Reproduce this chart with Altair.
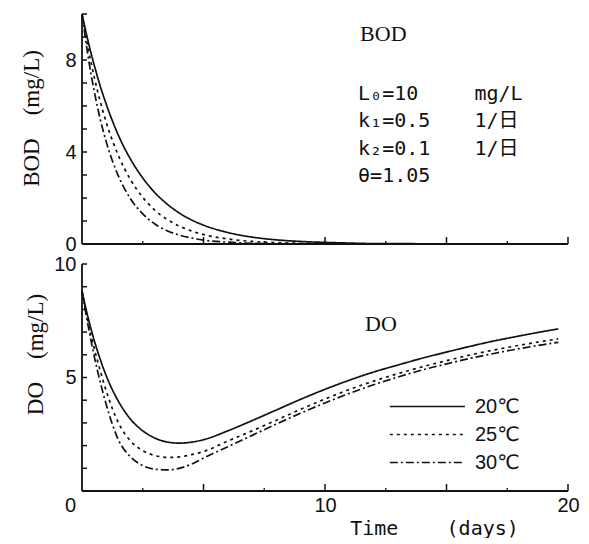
import altair as alt
import pandas as pd

# ---------------- data ----------------
days = [0, 0.25, 0.5, 0.75, 1, 1.5, 2, 2.5, 3, 3.5, 4, 4.5, 5, 6, 7, 8, 9, 10,
        11, 12, 13, 14, 15, 16, 17, 18, 19, 19.6]
temps = ["20℃", "25℃", "30℃"]

bod_20 = [10, 8.82, 7.79, 6.87, 6.07, 4.72, 3.68, 2.87, 2.23, 1.74, 1.35, 1.05, 0.82,
          0.50, 0.30, 0.18, 0.11, 0.07, 0.04, 0.02, 0.02, 0.01, 0.01, 0, 0, 0, 0, 0]
bod_25 = [10, 8.53, 7.27, 6.20, 5.28, 3.84, 2.79, 2.03, 1.47, 1.07, 0.78, 0.57, 0.41,
          0.22, 0.11, 0.06, 0.03, 0.02, 0.01, 0, 0, 0, 0, 0, 0, 0, 0, 0]
bod_30 = [10, 8.16, 6.66, 5.43, 4.43, 2.95, 1.96, 1.31, 0.87, 0.58, 0.39, 0.26, 0.17,
          0.08, 0.03, 0.01, 0, 0, 0, 0, 0, 0, 0, 0, 0, 0, 0, 0]

do_20 = [8.8, 7.64, 6.65, 5.80, 5.07, 3.95, 3.16, 2.65, 2.33, 2.16, 2.11, 2.15, 2.26,
         2.65, 3.10, 3.57, 4.04, 4.48, 4.88, 5.24, 5.55, 5.85, 6.12, 6.38, 6.62, 6.83, 7.03, 7.14]
do_25 = [8.8, 7.45, 6.30, 5.30, 4.40, 3.00, 2.20, 1.78, 1.56, 1.48, 1.50, 1.60, 1.74,
         2.20, 2.65, 3.12, 3.60, 4.05, 4.47, 4.84, 5.17, 5.47, 5.74, 6.00, 6.22, 6.42, 6.60, 6.70]
do_30 = [8.8, 7.30, 5.95, 4.80, 3.80, 2.25, 1.50, 1.12, 0.96, 0.93, 1.00, 1.18, 1.45,
         1.95, 2.45, 2.95, 3.43, 3.88, 4.30, 4.68, 5.02, 5.33, 5.60, 5.85, 6.07, 6.27, 6.45, 6.55]

x_domain = [0, 20]
x_major_ticks = [5, 10, 15, 20]
x_minor_ticks = [2.5, 7.5, 12.5, 17.5]
x_labels = [0, 10, 20]
bod_domain = [0, 10]
bod_ticks = [1, 2, 3, 4, 5, 6, 7, 8, 9, 10]
bod_labels = [0, 4, 8]
do_domain = [0, 10]
do_ticks = [1, 2, 3, 4, 5, 6, 7, 8, 9, 10]
do_labels = [5, 10]

param_names = ["L₀=10", "k₁=0.5", "k₂=0.1", "θ=1.05"]
param_units = ["mg/L", "1/日", "1/日", ""]

NB = "\u00a0"
bod_axis_title = f"BOD{NB * 4}(mg/L)"
do_axis_title = f"DO{NB * 4}(mg/L)"
time_axis_title = f"Time{NB * 4}(days)"


def long_frame(series_list):
    rows = []
    for temp, series in zip(temps, series_list):
        for t, v in zip(days, series):
            rows.append({"t": t, "v": v, "temp": temp})
    return pd.DataFrame(rows)


df_bod = long_frame([bod_20, bod_25, bod_30])
df_do = long_frame([do_20, do_25, do_30])

INK = "#111111"
NUM_FONT = "Liberation Sans"
SERIF = "Liberation Serif"
MONO = "DejaVu Sans Mono, Noto Sans CJK JP"

W = 486
H_BOD = 230
H_DO = 227

x_scale = alt.Scale(domain=x_domain, nice=False, zero=False)
dash_scale = alt.Scale(domain=temps, range=[[1, 0], [3, 4], [8, 3, 2, 3]])

legend = alt.Legend(orient="none", legendX=363, legendY=382, title=None,
                    symbolType="M-7,0H1", symbolSize=352, symbolStrokeWidth=1.5,
                    symbolStrokeColor=INK, symbolFillColor="transparent",
                    labelFont="Liberation Sans, DejaVu Sans", labelFontSize=20,
                    labelColor=INK, labelOffset=9, rowPadding=7, padding=0)

one_row = alt.Data(values=[{}])


def frame_and_ticks(y_dom, y_ticks):
    xline = alt.Chart(one_row).mark_rule(color=INK, strokeWidth=1.8).encode(
        x=alt.datum(x_domain[0]), x2=alt.datum(x_domain[1]), y=alt.datum(y_dom[0]))
    yline = alt.Chart(one_row).mark_rule(color=INK, strokeWidth=1.8).encode(
        x=alt.datum(x_domain[0]), y=alt.datum(y_dom[0]), y2=alt.datum(y_dom[1]))
    xmaj = alt.Chart(pd.DataFrame({"t": x_major_ticks})).mark_rule(
        color=INK, strokeWidth=1.5, y2Offset=-7).encode(
        x="t:Q", y=alt.datum(y_dom[0]), y2=alt.datum(y_dom[0]))
    xmin = alt.Chart(pd.DataFrame({"t": x_minor_ticks})).mark_rule(
        color=INK, strokeWidth=1.3, y2Offset=-3).encode(
        x="t:Q", y=alt.datum(y_dom[0]), y2=alt.datum(y_dom[0]))
    yt = alt.Chart(pd.DataFrame({"v": y_ticks})).mark_rule(
        color=INK, strokeWidth=1.5, x2Offset=5).encode(
        y="v:Q", x=alt.datum(x_domain[0]), x2=alt.datum(x_domain[0]))
    return [xline, yline, xmaj, xmin, yt]


# ---------------- BOD panel ----------------
bod_x_axis = alt.Axis(labels=False, domain=False, ticks=False, title=None, grid=False)
bod_y_axis = alt.Axis(values=bod_labels, domain=False, ticks=False, labelPadding=6,
                      labelOverlap=False, labelFontSize=20, grid=False,
                      title=bod_axis_title, titleX=-51, titleY=104,
                      titleBaseline="middle", titleFont=SERIF, titleFontSize=23)

bod_lines = alt.Chart(df_bod).mark_line(color=INK, strokeWidth=1.7, interpolate="monotone").encode(
    x=alt.X("t:Q", scale=x_scale, axis=bod_x_axis),
    y=alt.Y("v:Q", scale=alt.Scale(domain=bod_domain, nice=False), axis=bod_y_axis),
    strokeDash=alt.StrokeDash("temp:N", scale=dash_scale, legend=legend),
)

bod_title = alt.Chart(one_row).mark_text(text="BOD", font=SERIF, fontSize=22, color=INK,
                                         align="center", baseline="middle").encode(
    x=alt.datum(12.4), y=alt.datum(9.15))

params_a = alt.Chart(one_row).mark_text(text=param_names, font=MONO, fontSize=20, color=INK,
                                        align="left", baseline="top", lineHeight=27.3).encode(
    x=alt.datum(11.36), y=alt.datum(6.95))
params_b = alt.Chart(one_row).mark_text(text=param_units, font=MONO, fontSize=20, color=INK,
                                        align="left", baseline="top", lineHeight=27.3).encode(
    x=alt.datum(16.15), y=alt.datum(6.95))

bod = alt.layer(bod_lines, *frame_and_ticks(bod_domain, bod_ticks),
                bod_title, params_a, params_b).properties(width=W, height=H_BOD)

# ---------------- DO panel ----------------
do_x_axis = alt.Axis(values=x_labels, domain=False, ticks=False, labelPadding=4,
                     labelFontSize=20, labelOverlap=False, grid=False, labelFlush=False,
                     labelOffset={"condition": {"test": "datum.value === 0", "value": -12}, "value": 0},
                     title=time_axis_title, titleX=352, titleY=37, titleBaseline="middle",
                     titleFont=MONO, titleFontSize=20)
do_y_axis = alt.Axis(values=do_labels, domain=False, ticks=False, labelPadding=6,
                     labelOverlap=False, labelFontSize=20, grid=False,
                     title=do_axis_title, titleX=-47, titleY=90,
                     titleBaseline="middle", titleFont=SERIF, titleFontSize=23)

do_lines = alt.Chart(df_do).mark_line(color=INK, strokeWidth=1.7, interpolate="monotone").encode(
    x=alt.X("t:Q", scale=x_scale, axis=do_x_axis),
    y=alt.Y("v:Q", scale=alt.Scale(domain=do_domain, nice=False), axis=do_y_axis),
    strokeDash=alt.StrokeDash("temp:N", scale=dash_scale, legend=legend),
)

do_title = alt.Chart(one_row).mark_text(text="DO", font=SERIF, fontSize=22, color=INK,
                                        align="center", baseline="middle").encode(
    x=alt.datum(12.3), y=alt.datum(7.35))

do_panel = alt.layer(do_lines, *frame_and_ticks(do_domain, do_ticks),
                     do_title).properties(width=W, height=H_DO)

chart = (
    alt.vconcat(bod, do_panel, spacing=20, bounds="flush")
    .properties(padding={"left": 11, "top": 2, "right": 0, "bottom": 0}, background="white")
    .configure_view(stroke=None)
    .configure_axis(labelFont=NUM_FONT, labelColor=INK, titleColor=INK,
                    titleFontWeight="normal")
)

chart.save("out.html", embed_options={"renderer": "svg", "actions": False})
